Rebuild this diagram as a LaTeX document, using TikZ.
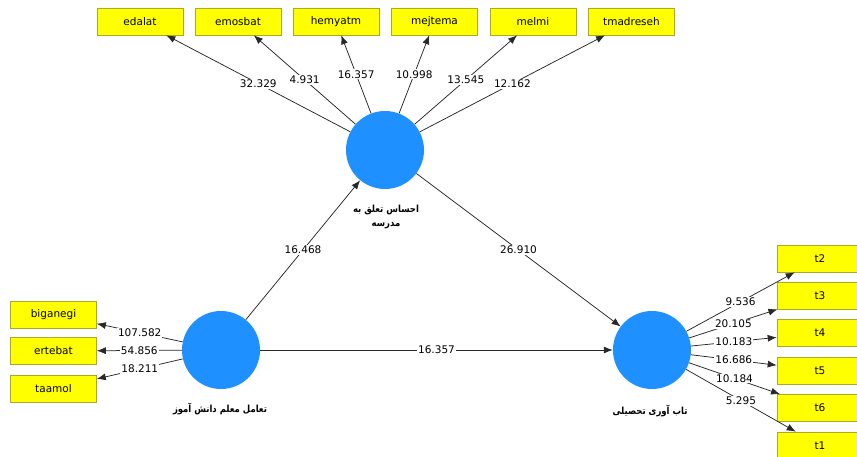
\documentclass[tikz,border=0pt]{standalone}
\usepackage{fontspec}
\setmainfont{DejaVu Sans}
\newfontfamily\arabicfont[Script=Arabic]{DejaVu Sans}
\TeXXeTstate=1
\usetikzlibrary{arrows.meta}
\definecolor{lvblue}{RGB}{30,144,255}
\definecolor{boxyellow}{RGB}{255,255,0}
\definecolor{boxborder}{RGB}{170,170,40}
\definecolor{edgegray}{RGB}{40,40,40}
\begin{document}
\begin{tikzpicture}[x=1pt,y=-1pt,
  latent/.style={circle,fill=lvblue,draw=none,minimum size=78pt,inner sep=0pt},
  indic/.style={rectangle,fill=boxyellow,draw=boxborder,line width=0.6pt,minimum width=86pt,minimum height=27pt,inner sep=0pt,font=\fontsize{10.5pt}{12pt}\selectfont},
  edge/.style={draw=edgegray,line width=0.75pt,-{Latex[length=9pt,width=7pt]}},
  val/.style={fill=white,inner sep=1pt,font=\fontsize{10.5pt}{12pt}\selectfont,midway},
  lvlabel/.style={font=\fontsize{8.5pt}{13pt}\selectfont\bfseries\arabicfont,align=center,inner sep=0pt,yscale=1.15}
]
\useasboundingbox (0,0) rectangle (857,457);
\fill[white] (0,0) rectangle (857,457);

% latent variables
\node[latent] (c1) at (385,150) {};
\node[latent] (c2) at (221,350) {};
\node[latent] (c3) at (652,350) {};

\node[lvlabel] (l1) at (386,217) {\beginR احساس تعلق به\endR\\ \beginR مدرسه\endR};
\node[lvlabel] (l2) at (220,409) {\beginR تعامل معلم دانش آموز\endR};
\node[lvlabel] (l3) at (650,411) {\beginR تاب آوری تحصیلی\endR};

% top indicators
\node[indic] (edalat) at (140,21.5) {edalat};
\node[indic] (emosbat) at (238,21.5) {emosbat};
\node[indic] (hemyatm) at (336,21.5) {hemyatm};
\node[indic] (mejtema) at (434.5,21.5) {mejtema};
\node[indic] (melmi) at (533,21.5) {melmi};
\node[indic] (tmadreseh) at (631.5,21.5) {tmadreseh};

% left indicators
\node[indic] (biganegi) at (53.5,314.5) {biganegi};
\node[indic] (ertebat) at (53.5,351) {ertebat};
\node[indic] (taamol) at (53.5,389) {taamol};

% right indicators
\node[indic] (t2) at (820,258.5) {t2};
\node[indic] (t3) at (820,295.5) {t3};
\node[indic] (t4) at (820,333) {t4};
\node[indic] (t5) at (820,370.5) {t5};
\node[indic] (t6) at (820,408) {t6};
\node[indic] (t1) at (820,445.5) {t1};

% outer loadings
\draw[edge] (c1) -- node[val] {32.329} (edalat);
\draw[edge] (c1) -- node[val] {4.931} (emosbat);
\draw[edge] (c1) -- node[val] {16.357} (hemyatm);
\draw[edge] (c1) -- node[val] {10.998} (mejtema);
\draw[edge] (c1) -- node[val] {13.545} (melmi);
\draw[edge] (c1) -- node[val] {12.162} (tmadreseh);

\draw[edge] (c2) -- node[val] {107.582} (biganegi);
\draw[edge] (c2) -- node[val] {54.856} (ertebat);
\draw[edge] (c2) -- node[val] {18.211} (taamol);

\draw[edge] (c3) -- node[val] {9.536} (t2);
\draw[edge] (c3) -- node[val] {20.105} (t3);
\draw[edge] (c3) -- node[val] {10.183} (t4);
\draw[edge] (c3) -- node[val] {16.686} (t5);
\draw[edge] (c3) -- node[val] {10.184} (t6);
\draw[edge] (c3) -- node[val] {5.295} (t1);

% inner paths
\draw[edge] (c2) -- node[val] {16.468} (c1);
\draw[edge] (c1) -- node[val] {26.910} (c3);
\draw[edge] (c2) -- node[val] {16.357} (c3);
\end{tikzpicture}
\end{document}
